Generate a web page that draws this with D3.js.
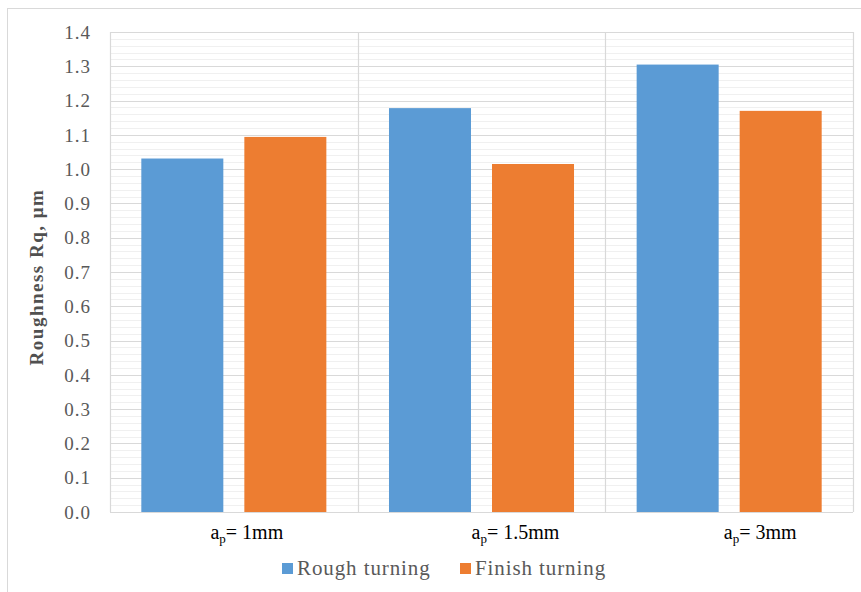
<!DOCTYPE html>
<html>
<head>
<meta charset="utf-8">
<script src="https://cdn.jsdelivr.net/npm/d3@7"></script>
<style>
  html, body { margin: 0; padding: 0; background: #fff; }
  svg { display: block; }
  svg text { font-family: "Liberation Serif", "Times New Roman", Tinos, serif !important; }
</style>
</head>
<body>
<script>
const categories = ["1mm", "1.5mm", "3mm"];
const seriesNames = ["Rough turning", "Finish turning"];
const roughValues = [1.031, 1.178, 1.305];
const finishValues = [1.094, 1.015, 1.170];
const yTicks = [0.0, 0.1, 0.2, 0.3, 0.4, 0.5, 0.6, 0.7, 0.8, 0.9, 1.0, 1.1, 1.2, 1.3, 1.4];
const colors = ["#5B9BD5", "#ED7D31"];

const W = 861, H = 592;
const svg = d3.select("body").append("svg").attr("width", W).attr("height", H);

// outer frame
svg.append("rect").attr("x", 7.5).attr("y", 8.5).attr("width", W + 10).attr("height", H + 10)
  .attr("fill", "#fff").attr("stroke", "#d9d9d9").attr("stroke-width", 1);

const x0 = d3.scaleBand().domain(categories).range([110, 853]).paddingInner(0).paddingOuter(0);
const y = d3.scaleLinear().domain([0, 1.4]).range([512, 32]);
const x1 = d3.scaleBand().domain(seriesNames).range([0, x0.bandwidth()]).paddingInner(0.204).paddingOuter(0.304);

const g = svg.append("g");

// minor gridlines
const minor = d3.range(0, 141, 2).map(v => v / 100).filter(v => Math.round(v * 100) % 10 !== 0);
g.selectAll("line.minor").data(minor).join("line")
  .attr("x1", 110).attr("x2", 853)
  .attr("y1", d => Math.round(y(d)) + 0.5).attr("y2", d => Math.round(y(d)) + 0.5)
  .attr("stroke", "#f0f0f0").attr("stroke-width", 1);

// major gridlines
g.selectAll("line.major").data(yTicks).join("line")
  .attr("x1", 110).attr("x2", 853)
  .attr("y1", d => Math.round(y(d)) + 0.5).attr("y2", d => Math.round(y(d)) + 0.5)
  .attr("stroke", "#d9d9d9").attr("stroke-width", 1);

// vertical category dividers
const dividers = [x0.range()[0]].concat(categories.map(c => x0(c) + x0.bandwidth()));
g.selectAll("line.vdiv").data(dividers).join("line")
  .attr("x1", d => Math.round(d) + 0.5).attr("x2", d => Math.round(d) + 0.5)
  .attr("y1", y(1.4)).attr("y2", y(0))
  .attr("stroke", "#d9d9d9").attr("stroke-width", 1.2);

// bars
const data = categories.map((c, i) => ({ cat: c, vals: [roughValues[i], finishValues[i]] }));
const groups = g.selectAll("g.grp").data(data).join("g").attr("transform", d => `translate(${x0(d.cat)},0)`);
groups.selectAll("rect").data(d => d.vals.map((v, j) => ({ s: seriesNames[j], v, j }))).join("rect")
  .attr("x", d => x1(d.s)).attr("width", x1.bandwidth())
  .attr("y", d => y(d.v)).attr("height", d => y(0) - y(d.v))
  .attr("fill", d => colors[d.j]);

// y tick labels
const yAxis = d3.axisLeft(y).tickValues(yTicks).tickFormat(d3.format(".1f")).tickSize(0).tickPadding(0);
const ya = svg.append("g").attr("transform", "translate(91,0)").call(yAxis);
ya.select(".domain").remove();
ya.attr("font-family", null).attr("font-size", null);
ya.selectAll("text")
  .attr("font-size", 19).attr("fill", "#595959").attr("dy", "0.33em").attr("letter-spacing", 1);

// x labels
const labelShift = [13, 34, 31];
const xl = svg.append("g");
categories.forEach((c, i) => {
  const t = xl.append("text")
    .attr("x", x0(c) + x0.bandwidth() / 2 + labelShift[i]).attr("y", 539)
    .attr("text-anchor", "middle")
    .attr("font-size", 20).attr("fill", "#000").attr("letter-spacing", 0);
  t.append("tspan").text("a");
  t.append("tspan").attr("font-size", 13).attr("dy", 4).text("p");
  t.append("tspan").attr("dy", -4).text("= " + c);
});

// y axis title
svg.append("text")
  .attr("transform", "translate(43,277) rotate(-90)")
  .attr("text-anchor", "middle")
  .attr("font-weight", "bold").attr("font-size", 19).attr("fill", "#505050")
  .attr("letter-spacing", 1.5)
  .text("Roughness Rq, μm");

// legend
const legendX = [282, 460];
const lg = svg.append("g");
seriesNames.forEach((s, i) => {
  lg.append("rect").attr("x", legendX[i]).attr("y", 563).attr("width", 11).attr("height", 11).attr("fill", colors[i]);
  lg.append("text").attr("x", legendX[i] + 15).attr("y", 575)
    .attr("font-size", 21).attr("fill", "#595959").attr("letter-spacing", 0.9)
    .text(s);
});
</script>
</body>
</html>
